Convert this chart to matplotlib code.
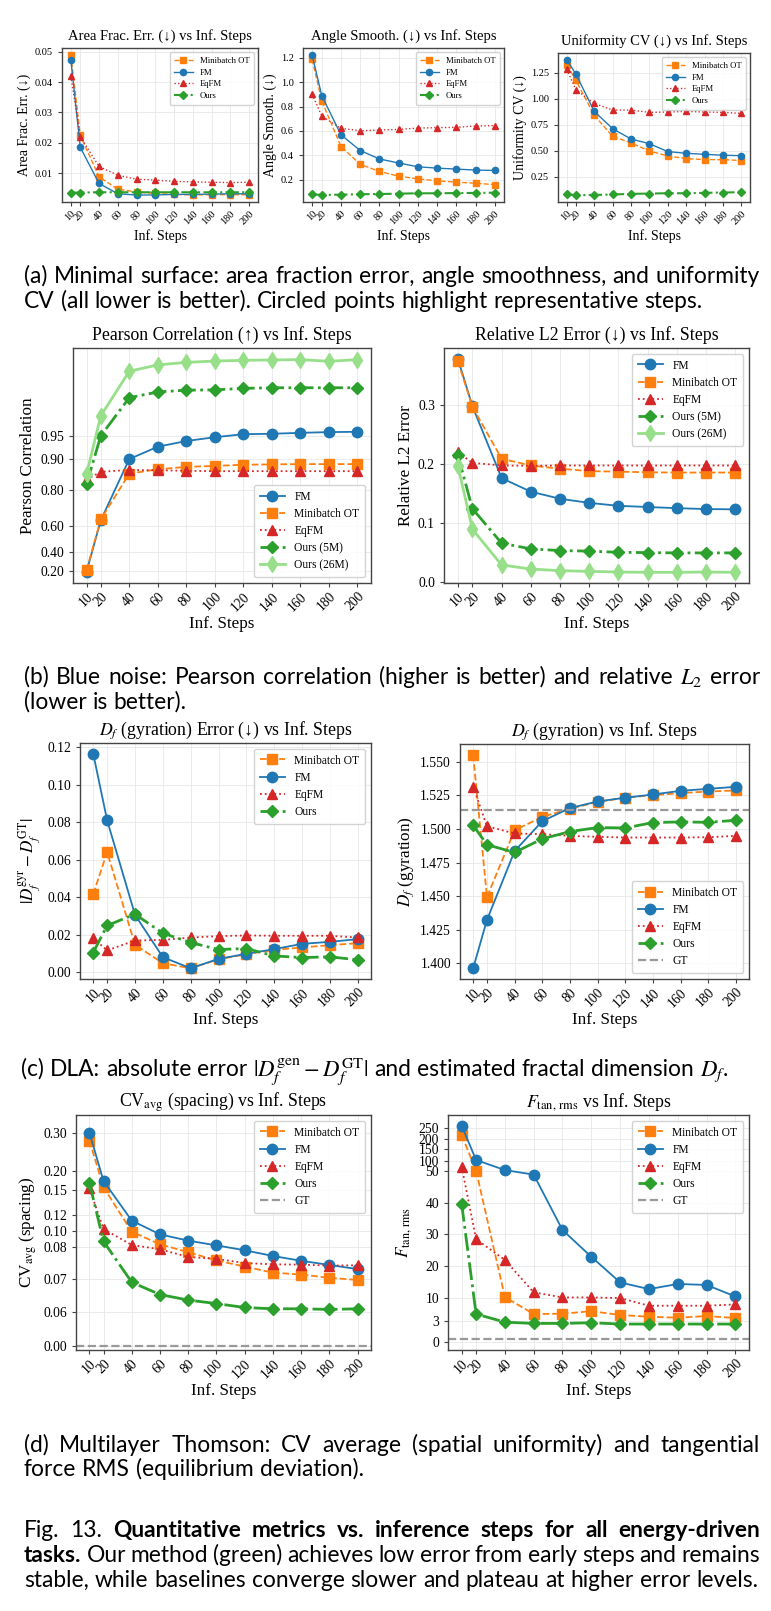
import numpy as np
import matplotlib
matplotlib.use('Agg')
import matplotlib.pyplot as plt

plt.rcParams['font.family'] = ['Liberation Serif', 'DejaVu Serif']
plt.rcParams['mathtext.fontset'] = 'stix'
plt.rcParams['axes.unicode_minus'] = True

W, H = 771, 1611
CAP_FONT = ['Lato', 'DejaVu Sans']

steps = [10, 20, 40, 60, 80, 100, 120, 140, 160, 180, 200]

# (a) minimal surface
area_mot = [0.0489, 0.0224, 0.0088, 0.0047, 0.0038, 0.0033, 0.0030, 0.0028, 0.0029, 0.0029, 0.0029]
area_fm = [0.0471, 0.0185, 0.0066, 0.0032, 0.0028, 0.0028, 0.0030, 0.0030, 0.0031, 0.0032, 0.0032]
area_eq = [0.0419, 0.0220, 0.0122, 0.0093, 0.0080, 0.0077, 0.0073, 0.0071, 0.0070, 0.0069, 0.0070]
area_ours = [0.0036, 0.0036, 0.0037, 0.0037, 0.0037, 0.0037, 0.0037, 0.0037, 0.0037, 0.0037, 0.0037]

angle_mot = [1.186, 0.845, 0.473, 0.327, 0.269, 0.230, 0.208, 0.192, 0.181, 0.172, 0.161]
angle_fm = [1.222, 0.889, 0.569, 0.440, 0.371, 0.338, 0.307, 0.296, 0.288, 0.280, 0.277]
angle_eq = [0.900, 0.723, 0.621, 0.602, 0.608, 0.613, 0.624, 0.627, 0.630, 0.641, 0.644]
angle_ours = [0.082, 0.076, 0.079, 0.082, 0.084, 0.087, 0.090, 0.090, 0.092, 0.093, 0.095]

unif_mot = [1.327, 1.177, 0.841, 0.640, 0.576, 0.499, 0.451, 0.426, 0.416, 0.416, 0.407]
unif_fm = [1.375, 1.237, 0.879, 0.713, 0.614, 0.569, 0.493, 0.477, 0.467, 0.458, 0.454]
unif_eq = [1.282, 1.087, 0.956, 0.892, 0.892, 0.870, 0.873, 0.879, 0.873, 0.870, 0.860]
unif_ours = [0.084, 0.074, 0.077, 0.081, 0.087, 0.090, 0.093, 0.093, 0.097, 0.100, 0.103]

# (b) blue noise
pear_fm = [0.190, 0.632, 0.901, 0.927, 0.939, 0.947, 0.952, 0.9525, 0.9537, 0.9546, 0.955]
pear_mot = [0.207, 0.637, 0.854, 0.868, 0.876, 0.879, 0.883, 0.884, 0.885, 0.885, 0.885]
pear_eq = [0.835, 0.860, 0.866, 0.865, 0.863, 0.862, 0.862, 0.862, 0.862, 0.862, 0.862]
pear_5m = [0.820, 0.950, 0.9875, 0.9907, 0.9913, 0.9914, 0.9919, 0.9921, 0.9921, 0.9921, 0.9921]
pear_26m = [0.852, 0.975, 0.9961, 0.9970, 0.99735, 0.99754, 0.99764, 0.99769, 0.99774, 0.9975, 0.99774]

l2_fm = [0.379, 0.298, 0.176, 0.153, 0.141, 0.134, 0.129, 0.127, 0.125, 0.1235, 0.123]
l2_mot = [0.375, 0.297, 0.209, 0.1975, 0.192, 0.188, 0.187, 0.186, 0.1855, 0.1855, 0.1855]
l2_eq = [0.220, 0.202, 0.1975, 0.197, 0.1975, 0.1975, 0.1975, 0.1975, 0.1975, 0.1975, 0.1975]
l2_5m = [0.215, 0.124, 0.0655, 0.0558, 0.053, 0.052, 0.050, 0.0495, 0.049, 0.049, 0.049]
l2_26m = [0.197, 0.089, 0.0285, 0.0216, 0.0188, 0.0176, 0.0165, 0.016, 0.016, 0.0165, 0.016]

# (c) DLA
dferr_mot = [0.0416, 0.0640, 0.0146, 0.0048, 0.0021, 0.0069, 0.0096, 0.0119, 0.0132, 0.0144, 0.0155]
dferr_fm = [0.1164, 0.0809, 0.0306, 0.0080, 0.0021, 0.0071, 0.0098, 0.0123, 0.0151, 0.0162, 0.0176]
dferr_eq = [0.0181, 0.0116, 0.0169, 0.0172, 0.0185, 0.0192, 0.0196, 0.0194, 0.0194, 0.0194, 0.0185]
dferr_ours = [0.0105, 0.0249, 0.0309, 0.0208, 0.0158, 0.0121, 0.0126, 0.0087, 0.0078, 0.0082, 0.0066]

df_mot = [1.5552, 1.4493, 1.4990, 1.5089, 1.5150, 1.5200, 1.5232, 1.5251, 1.5266, 1.5278, 1.5286]
df_fm = [1.3963, 1.4323, 1.4835, 1.5057, 1.5155, 1.5204, 1.5232, 1.5256, 1.5283, 1.5298, 1.5313]
df_eq = [1.5315, 1.5020, 1.4966, 1.4961, 1.4948, 1.4941, 1.4936, 1.4936, 1.4936, 1.4938, 1.4948]
df_ours = [1.5027, 1.4882, 1.4825, 1.4926, 1.4980, 1.5010, 1.5007, 1.5047, 1.5052, 1.5049, 1.5064]
df_gt = 1.5138

# (d) multilayer Thomson
cv_mot = [0.279, 0.157, 0.0992, 0.0837, 0.0785, 0.0759, 0.0740, 0.0721, 0.0715, 0.0705, 0.0698]
cv_fm = [0.300, 0.1733, 0.1127, 0.0959, 0.0882, 0.0824, 0.0791, 0.0773, 0.0758, 0.0745, 0.0732]
cv_eq = [0.1543, 0.1024, 0.0829, 0.0794, 0.0770, 0.0764, 0.0751, 0.0747, 0.0746, 0.0743, 0.0744]
cv_ours = [0.169, 0.0873, 0.0691, 0.0653, 0.0636, 0.0625, 0.0613, 0.0609, 0.0609, 0.0607, 0.0609]
cv_gt = 0.0002

ftan_mot = [218, 50, 10.4, 5.1, 5.2, 6.0, 4.8, 4.25, 3.94, 4.46, 3.84]
ftan_fm = [263, 103, 53, 48.8, 31.4, 23.0, 15.0, 12.9, 14.5, 14.2, 10.6]
ftan_eq = [70, 28.5, 22.0, 11.9, 10.3, 10.3, 10.1, 7.7, 7.7, 7.7, 8.1]
ftan_ours = [39.8, 5.1, 2.8, 2.63, 2.63, 2.72, 2.54, 2.54, 2.54, 2.54, 2.54]
ftan_gt = 0.45

STY = {
    'Minibatch OT': dict(color='#ff7f0e', ls='--', marker='s', lw=1.3),
    'FM': dict(color='#1f77b4', ls='-', marker='o', lw=1.3),
    'EqFM': dict(color='#d62728', ls=':', marker='^', lw=1.3),
    'Ours': dict(color='#2ca02c', ls='-.', marker='D', lw=2.0),
    'Ours (5M)': dict(color='#2ca02c', ls='-.', marker='D', lw=2.0),
    'Ours (26M)': dict(color='#98df8a', ls='-', marker='d', lw=2.0),
}


def box(l, t, r, b):
    return [l / W, 1 - b / H, (r - l) / W, (b - t) / H]


def knot_scale(ax, vals, pos):
    vals = np.asarray(vals, float)
    pos = np.asarray(pos, float)

    def ext(v, xs, ys):
        v = np.asarray(v, float)
        out = np.interp(v, xs, ys)
        lo = v < xs[0]
        hi = v > xs[-1]
        out = np.where(lo, ys[0] + (v - xs[0]) * (ys[1] - ys[0]) / (xs[1] - xs[0]), out)
        out = np.where(hi, ys[-1] + (v - xs[-1]) * (ys[-1] - ys[-2]) / (xs[-1] - xs[-2]), out)
        return out

    ax.set_yscale('function', functions=(lambda v: ext(v, vals, pos),
                                         lambda p: ext(p, pos, vals)))


def panel(ax, series, title, ylabel, small=False, legend_loc='upper right', gt=None):
    ms = 4.5 if small else 7.5
    fs_t = 10.5 if small else 12.8
    fs_y = 10 if small else 12.3
    fs_k = 7.5 if small else 9.8
    fs_l = 6.2 if small else 8.3
    for name, vals in series:
        st = dict(STY[name])
        lw = st.pop('lw')
        if small:
            lw *= 0.75
        m = ms * (0.85 if st['marker'] == 'D' else 1.0)
        if st['marker'] == 'd':
            m = ms * 1.1
        ax.plot(steps, vals, label=name, lw=lw, markersize=m, **st)
    if gt is not None:
        ax.axhline(gt, color='#999999', ls='--', lw=1.6 if not small else 1.0, label='GT')
    ax.set_title(title, fontsize=fs_t, pad=6)
    ax.set_xlabel('Inf. Steps', fontsize=fs_y, labelpad=2)
    ax.set_ylabel(ylabel, fontsize=fs_y, labelpad=3)
    ax.set_xticks(steps)
    ax.set_xticklabels([str(s) for s in steps], rotation=45, ha='right',
                       rotation_mode='anchor', fontsize=fs_k)
    ax.tick_params(axis='y', labelsize=fs_k, length=3, color='#444444')
    ax.tick_params(axis='x', length=3, color='#444444', pad=2)
    ax.grid(True, color='#e8e8e8', lw=0.6)
    ax.set_axisbelow(True)
    for s in ax.spines.values():
        s.set_color('#444444')
        s.set_linewidth(1.0)
    ax.legend(loc=legend_loc, fontsize=fs_l, framealpha=0.85, edgecolor='#cccccc',
              handlelength=2.2, borderpad=0.5, labelspacing=0.45)


fig = plt.figure(figsize=(W / 100, H / 100), dpi=100)

# row (a)
ax = fig.add_axes(box(62, 48, 258, 202))
panel(ax, [('Minibatch OT', area_mot), ('FM', area_fm), ('EqFM', area_eq), ('Ours', area_ours)],
      'Area Frac. Err. (↓) vs Inf. Steps', 'Area Frac. Err. (↓)', small=True)
ax.set_yticks([0.01, 0.02, 0.03, 0.04, 0.05])
ax.yaxis.set_major_formatter(matplotlib.ticker.FormatStrFormatter('%.2f'))

ax = fig.add_axes(box(303, 48, 504, 202))
panel(ax, [('Minibatch OT', angle_mot), ('FM', angle_fm), ('EqFM', angle_eq), ('Ours', angle_ours)],
      'Angle Smooth. (↓) vs Inf. Steps', 'Angle Smooth. (↓)', small=True)
ax.yaxis.set_major_formatter(matplotlib.ticker.FormatStrFormatter('%.1f'))

ax = fig.add_axes(box(558, 53, 750, 202))
panel(ax, [('Minibatch OT', unif_mot), ('FM', unif_fm), ('EqFM', unif_eq), ('Ours', unif_ours)],
      'Uniformity CV (↓) vs Inf. Steps', 'Uniformity CV (↓)', small=True)
ax.set_yticks([0.25, 0.5, 0.75, 1.0, 1.25])
ax.yaxis.set_major_formatter(matplotlib.ticker.FormatStrFormatter('%.2f'))

# row (b)
ax = fig.add_axes(box(73, 348, 371, 583))
knot_scale(ax, [0.0, 0.2, 0.4, 0.6, 0.8, 0.9, 0.95, 0.975, 0.99, 0.995, 0.999, 1.0],
           [-40, 0, 57, 135, 242, 334, 405, 465, 530, 575, 660, 700])
panel(ax, [('FM', pear_fm), ('Minibatch OT', pear_mot), ('EqFM', pear_eq),
           ('Ours (5M)', pear_5m), ('Ours (26M)', pear_26m)],
      'Pearson Correlation (↑) vs Inf. Steps', 'Pearson Correlation', legend_loc='lower right')
ax.set_yticks([0.2, 0.4, 0.6, 0.8, 0.9, 0.95])
ax.yaxis.set_major_formatter(matplotlib.ticker.FormatStrFormatter('%.2f'))
ax.yaxis.set_minor_locator(matplotlib.ticker.NullLocator())
ax.set_ylim(0.02, 0.9992)

ax = fig.add_axes(box(444, 348, 749, 583))
panel(ax, [('FM', l2_fm), ('Minibatch OT', l2_mot), ('EqFM', l2_eq),
           ('Ours (5M)', l2_5m), ('Ours (26M)', l2_26m)],
      'Relative L2 Error (↓) vs Inf. Steps', 'Relative L2 Error')
ax.set_yticks([0.0, 0.1, 0.2, 0.3])
ax.yaxis.set_major_formatter(matplotlib.ticker.FormatStrFormatter('%.1f'))

# row (c)
ax = fig.add_axes(box(80, 743, 371, 979))
panel(ax, [('Minibatch OT', dferr_mot), ('FM', dferr_fm), ('EqFM', dferr_eq), ('Ours', dferr_ours)],
      r'$D_f$ (gyration) Error (↓) vs Inf. Steps', r'$|D_f^{\rm gyr} - D_f^{\rm GT}|$')
ax.yaxis.set_major_formatter(matplotlib.ticker.FormatStrFormatter('%.2f'))

ax = fig.add_axes(box(460, 744, 749, 979))
panel(ax, [('Minibatch OT', df_mot), ('FM', df_fm), ('EqFM', df_eq), ('Ours', df_ours)],
      r'$D_f$ (gyration) vs Inf. Steps', r'$D_f$ (gyration)', legend_loc='lower right', gt=df_gt)
ax.yaxis.set_major_formatter(matplotlib.ticker.FormatStrFormatter('%.3f'))

# row (d)
ax = fig.add_axes(box(76, 1115, 371, 1350))
knot_scale(ax, [-0.01, 0.0, 0.06, 0.07, 0.08, 0.10, 0.12, 0.15, 0.20, 0.30, 0.35],
           [-17, 0, 103, 200, 296, 345, 394, 468, 526, 640, 697])
panel(ax, [('Minibatch OT', cv_mot), ('FM', cv_fm), ('EqFM', cv_eq), ('Ours', cv_ours)],
      r'CV$_{\rm avg}$ (spacing) vs Inf. Steps', r'CV$_{\rm avg}$ (spacing)', gt=cv_gt)
ax.set_yticks([0.0, 0.06, 0.07, 0.08, 0.10, 0.12, 0.15, 0.20, 0.30])
ax.yaxis.set_major_formatter(matplotlib.ticker.FormatStrFormatter('%.2f'))
ax.yaxis.set_minor_locator(matplotlib.ticker.NullLocator())
ax.set_ylim(-0.007, 0.3465)

ax = fig.add_axes(box(448, 1115, 749, 1350))
knot_scale(ax, [-2, 0, 3, 10, 20, 30, 40, 50, 100, 150, 200, 250, 300, 350],
           [-43, 0, 65, 132, 228, 324, 417, 515, 545, 579, 611, 642, 673, 704])
panel(ax, [('Minibatch OT', ftan_mot), ('FM', ftan_fm), ('EqFM', ftan_eq), ('Ours', ftan_ours)],
      r'$F_{\rm tan,\,rms}$ vs Inf. Steps', r'$F_{\rm tan,\,rms}$', gt=ftan_gt)
ax.set_yticks([0, 3, 10, 20, 30, 40, 50, 100, 150, 200, 250])
ax.yaxis.set_major_formatter(matplotlib.ticker.FormatStrFormatter('%d'))
ax.yaxis.set_minor_locator(matplotlib.ticker.NullLocator())
ax.set_ylim(-1.06, 314.5)

# captions (justified like the paper's text column)
renderer = fig.canvas.get_renderer()
CAP_L, CAP_R = 24, 760


def text_w(s, fs, wt='normal'):
    t = fig.text(0, 0, s, fontsize=fs, family=CAP_FONT, weight=wt)
    w = t.get_window_extent(renderer).width
    t.remove()
    return w


cap_fs = 14 * (CAP_R - CAP_L - 2) / text_w(
    '(a) Minimal surface: area fraction error, angle smoothness, and uniformity', 14)
space_w = text_w('a a', cap_fs) - text_w('aa', cap_fs)


def words(s):
    out, cur, inmath = [], '', False
    for ch in s:
        if ch == '$':
            inmath = not inmath
        if ch == ' ' and not inmath:
            if cur:
                out.append(cur)
            cur = ''
        else:
            cur += ch
    if cur:
        out.append(cur)
    return out


def cap_line(y, runs, justify=False, x0=CAP_L):
    toks = [(w, wt) for s, wt in runs for w in words(s)]
    widths = [text_w(w, cap_fs, wt) for w, wt in toks]
    gap = space_w
    if justify and len(toks) > 1:
        gap = (CAP_R - x0 - sum(widths)) / (len(toks) - 1)
    x = x0
    base = y + 0.33 * cap_fs * 100 / 72
    for (w, wt), wd in zip(toks, widths):
        fig.text(x / W, 1 - base / H, w, fontsize=cap_fs, family=CAP_FONT, weight=wt,
                 va='baseline', ha='left')
        x += wd + gap


cap_line(275, [('(a) Minimal surface: area fraction error, angle smoothness, and uniformity', 'normal')], True)
cap_line(300, [('CV (all lower is better). Circled points highlight representative steps.', 'normal')])
cap_line(676, [(r'(b) Blue noise: Pearson correlation (higher is better) and relative $L_2$ error', 'normal')], True)
cap_line(701, [('(lower is better).', 'normal')])
cap_line(1068, [(r'(c) DLA: absolute error $|D_f^{\rm gen} - D_f^{\rm GT}|$ and estimated fractal dimension $D_f$.', 'normal')], x0=21)
cap_line(1444, [('(d) Multilayer Thomson: CV average (spatial uniformity) and tangential', 'normal')], True)
cap_line(1468, [('force RMS (equilibrium deviation).', 'normal')])
cap_line(1529, [('Fig. 13. ', 'normal'), ('Quantitative metrics vs. inference steps for all energy-driven', 'bold')], True)
cap_line(1554, [('tasks.', 'bold'), ('Our method (green) achieves low error from early steps and remains', 'normal')], True)
cap_line(1579, [('stable, while baselines converge slower and plateau at higher error levels.', 'normal')])

fig.savefig('out.png', dpi=100)
